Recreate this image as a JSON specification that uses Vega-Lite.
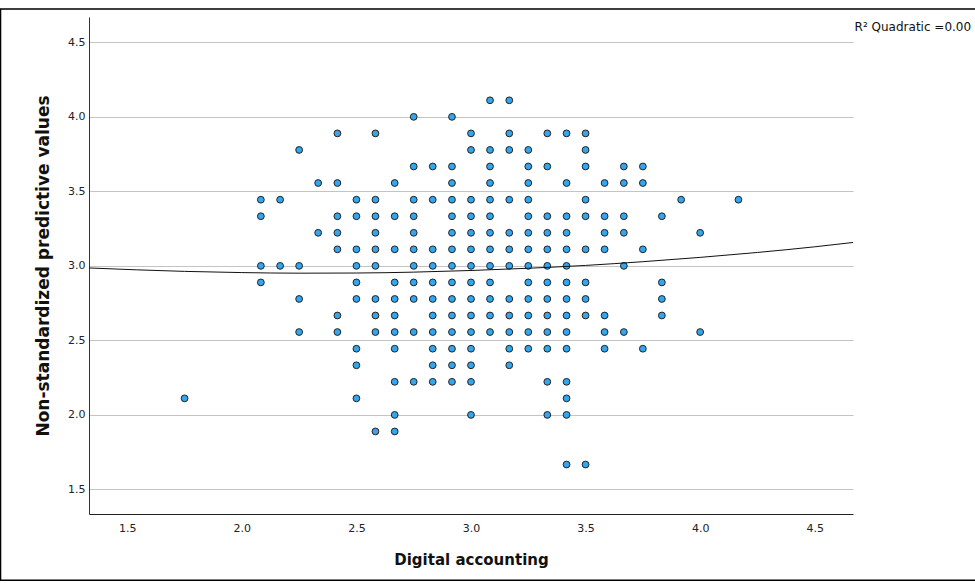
{
  "$schema": "https://vega.github.io/schema/vega-lite/v6.json",
  "width": 764,
  "height": 497,
  "autosize": {"type": "none"},
  "padding": {"left": 89, "top": 17, "right": 122, "bottom": 69},
  "background": "white",
  "config": {
    "view": {"stroke": null},
    "font": "DejaVu Sans",
    "axis": {
      "labelFont": "DejaVu Sans",
      "labelFontSize": 11,
      "labelColor": "#222222",
      "titleFont": "DejaVu Sans",
      "titleFontWeight": "bold",
      "titleFontSize": 14,
      "titleColor": "#111111",
      "ticks": false,
      "domainColor": "#333333",
      "domainWidth": 1
    }
  },
  "datasets": {
    "points": [
      {"x": 3.083, "y": 4.111}, {"x": 3.167, "y": 4.111},
      {"x": 2.75, "y": 4.0}, {"x": 2.917, "y": 4.0},
      {"x": 2.417, "y": 3.889}, {"x": 2.583, "y": 3.889}, {"x": 3.0, "y": 3.889}, {"x": 3.167, "y": 3.889}, {"x": 3.333, "y": 3.889}, {"x": 3.417, "y": 3.889}, {"x": 3.5, "y": 3.889},
      {"x": 2.25, "y": 3.778}, {"x": 3.0, "y": 3.778}, {"x": 3.083, "y": 3.778}, {"x": 3.167, "y": 3.778}, {"x": 3.25, "y": 3.778}, {"x": 3.5, "y": 3.778},
      {"x": 2.75, "y": 3.667}, {"x": 2.833, "y": 3.667}, {"x": 2.917, "y": 3.667}, {"x": 3.083, "y": 3.667}, {"x": 3.25, "y": 3.667}, {"x": 3.333, "y": 3.667}, {"x": 3.5, "y": 3.667}, {"x": 3.667, "y": 3.667}, {"x": 3.75, "y": 3.667},
      {"x": 2.333, "y": 3.556}, {"x": 2.417, "y": 3.556}, {"x": 2.667, "y": 3.556}, {"x": 2.917, "y": 3.556}, {"x": 3.083, "y": 3.556}, {"x": 3.25, "y": 3.556}, {"x": 3.417, "y": 3.556}, {"x": 3.583, "y": 3.556}, {"x": 3.667, "y": 3.556}, {"x": 3.75, "y": 3.556},
      {"x": 2.083, "y": 3.444}, {"x": 2.167, "y": 3.444}, {"x": 2.5, "y": 3.444}, {"x": 2.583, "y": 3.444}, {"x": 2.75, "y": 3.444}, {"x": 2.833, "y": 3.444}, {"x": 2.917, "y": 3.444}, {"x": 3.0, "y": 3.444}, {"x": 3.083, "y": 3.444}, {"x": 3.167, "y": 3.444}, {"x": 3.25, "y": 3.444}, {"x": 3.5, "y": 3.444}, {"x": 3.917, "y": 3.444}, {"x": 4.167, "y": 3.444},
      {"x": 2.083, "y": 3.333}, {"x": 2.417, "y": 3.333}, {"x": 2.5, "y": 3.333}, {"x": 2.583, "y": 3.333}, {"x": 2.667, "y": 3.333}, {"x": 2.75, "y": 3.333}, {"x": 2.917, "y": 3.333}, {"x": 3.0, "y": 3.333}, {"x": 3.083, "y": 3.333}, {"x": 3.25, "y": 3.333}, {"x": 3.333, "y": 3.333}, {"x": 3.417, "y": 3.333}, {"x": 3.5, "y": 3.333}, {"x": 3.583, "y": 3.333}, {"x": 3.667, "y": 3.333}, {"x": 3.833, "y": 3.333},
      {"x": 2.333, "y": 3.222}, {"x": 2.417, "y": 3.222}, {"x": 2.583, "y": 3.222}, {"x": 2.75, "y": 3.222}, {"x": 2.917, "y": 3.222}, {"x": 3.0, "y": 3.222}, {"x": 3.083, "y": 3.222}, {"x": 3.167, "y": 3.222}, {"x": 3.25, "y": 3.222}, {"x": 3.333, "y": 3.222}, {"x": 3.417, "y": 3.222}, {"x": 3.583, "y": 3.222}, {"x": 3.667, "y": 3.222}, {"x": 4.0, "y": 3.222},
      {"x": 2.417, "y": 3.111}, {"x": 2.5, "y": 3.111}, {"x": 2.583, "y": 3.111}, {"x": 2.667, "y": 3.111}, {"x": 2.75, "y": 3.111}, {"x": 2.833, "y": 3.111}, {"x": 2.917, "y": 3.111}, {"x": 3.0, "y": 3.111}, {"x": 3.083, "y": 3.111}, {"x": 3.167, "y": 3.111}, {"x": 3.25, "y": 3.111}, {"x": 3.333, "y": 3.111}, {"x": 3.417, "y": 3.111}, {"x": 3.5, "y": 3.111}, {"x": 3.583, "y": 3.111}, {"x": 3.75, "y": 3.111},
      {"x": 2.083, "y": 3.0}, {"x": 2.167, "y": 3.0}, {"x": 2.25, "y": 3.0}, {"x": 2.5, "y": 3.0}, {"x": 2.583, "y": 3.0}, {"x": 2.75, "y": 3.0}, {"x": 2.833, "y": 3.0}, {"x": 2.917, "y": 3.0}, {"x": 3.0, "y": 3.0}, {"x": 3.083, "y": 3.0}, {"x": 3.167, "y": 3.0}, {"x": 3.25, "y": 3.0}, {"x": 3.333, "y": 3.0}, {"x": 3.417, "y": 3.0}, {"x": 3.667, "y": 3.0},
      {"x": 2.083, "y": 2.889}, {"x": 2.5, "y": 2.889}, {"x": 2.667, "y": 2.889}, {"x": 2.75, "y": 2.889}, {"x": 2.833, "y": 2.889}, {"x": 2.917, "y": 2.889}, {"x": 3.0, "y": 2.889}, {"x": 3.083, "y": 2.889}, {"x": 3.25, "y": 2.889}, {"x": 3.333, "y": 2.889}, {"x": 3.417, "y": 2.889}, {"x": 3.5, "y": 2.889}, {"x": 3.833, "y": 2.889},
      {"x": 2.25, "y": 2.778}, {"x": 2.5, "y": 2.778}, {"x": 2.583, "y": 2.778}, {"x": 2.667, "y": 2.778}, {"x": 2.75, "y": 2.778}, {"x": 2.833, "y": 2.778}, {"x": 2.917, "y": 2.778}, {"x": 3.0, "y": 2.778}, {"x": 3.083, "y": 2.778}, {"x": 3.167, "y": 2.778}, {"x": 3.25, "y": 2.778}, {"x": 3.333, "y": 2.778}, {"x": 3.417, "y": 2.778}, {"x": 3.5, "y": 2.778}, {"x": 3.833, "y": 2.778},
      {"x": 2.417, "y": 2.667}, {"x": 2.583, "y": 2.667}, {"x": 2.667, "y": 2.667}, {"x": 2.833, "y": 2.667}, {"x": 2.917, "y": 2.667}, {"x": 3.0, "y": 2.667}, {"x": 3.083, "y": 2.667}, {"x": 3.167, "y": 2.667}, {"x": 3.25, "y": 2.667}, {"x": 3.333, "y": 2.667}, {"x": 3.417, "y": 2.667}, {"x": 3.5, "y": 2.667}, {"x": 3.583, "y": 2.667}, {"x": 3.833, "y": 2.667},
      {"x": 2.25, "y": 2.556}, {"x": 2.417, "y": 2.556}, {"x": 2.583, "y": 2.556}, {"x": 2.667, "y": 2.556}, {"x": 2.75, "y": 2.556}, {"x": 2.833, "y": 2.556}, {"x": 2.917, "y": 2.556}, {"x": 3.0, "y": 2.556}, {"x": 3.083, "y": 2.556}, {"x": 3.167, "y": 2.556}, {"x": 3.25, "y": 2.556}, {"x": 3.333, "y": 2.556}, {"x": 3.417, "y": 2.556}, {"x": 3.583, "y": 2.556}, {"x": 3.667, "y": 2.556}, {"x": 4.0, "y": 2.556},
      {"x": 2.5, "y": 2.444}, {"x": 2.667, "y": 2.444}, {"x": 2.833, "y": 2.444}, {"x": 2.917, "y": 2.444}, {"x": 3.0, "y": 2.444}, {"x": 3.167, "y": 2.444}, {"x": 3.25, "y": 2.444}, {"x": 3.333, "y": 2.444}, {"x": 3.417, "y": 2.444}, {"x": 3.583, "y": 2.444}, {"x": 3.75, "y": 2.444},
      {"x": 2.5, "y": 2.333}, {"x": 2.833, "y": 2.333}, {"x": 2.917, "y": 2.333}, {"x": 3.0, "y": 2.333}, {"x": 3.167, "y": 2.333},
      {"x": 2.667, "y": 2.222}, {"x": 2.75, "y": 2.222}, {"x": 2.833, "y": 2.222}, {"x": 2.917, "y": 2.222}, {"x": 3.0, "y": 2.222}, {"x": 3.333, "y": 2.222}, {"x": 3.417, "y": 2.222},
      {"x": 1.75, "y": 2.111}, {"x": 2.5, "y": 2.111}, {"x": 3.417, "y": 2.111},
      {"x": 2.667, "y": 2.0}, {"x": 3.0, "y": 2.0}, {"x": 3.333, "y": 2.0}, {"x": 3.417, "y": 2.0},
      {"x": 2.583, "y": 1.889}, {"x": 2.667, "y": 1.889},
      {"x": 3.417, "y": 1.667}, {"x": 3.5, "y": 1.667}
    ],
    "fit": [
      {"x": 1.333, "y": 2.986}, {"x": 1.75, "y": 2.963}, {"x": 2.0, "y": 2.955}, {"x": 2.25, "y": 2.951},
      {"x": 2.5, "y": 2.952}, {"x": 2.75, "y": 2.958}, {"x": 3.0, "y": 2.969}, {"x": 3.25, "y": 2.984},
      {"x": 3.5, "y": 3.003}, {"x": 3.75, "y": 3.028}, {"x": 4.0, "y": 3.057}, {"x": 4.25, "y": 3.09},
      {"x": 4.5, "y": 3.128}, {"x": 4.667, "y": 3.157}
    ],
    "note": [{"label": "R² Quadratic =0.00"}]
  },
  "layer": [
    {
      "data": {"name": "note"},
      "mark": {"type": "rect", "fill": "transparent", "stroke": "#000000", "strokeWidth": 1.5, "clip": false},
      "encoding": {
        "x": {"datum": 0.947, "type": "quantitative", "scale": {"domain": [1.333, 4.667], "nice": false, "zero": false}},
        "x2": {"datum": 5.207},
        "y": {"datum": 4.723, "type": "quantitative", "scale": {"domain": [1.335, 4.67], "nice": false, "zero": false}},
        "y2": {"datum": 0.89}
      }
    },
    {
      "data": {"name": "points"},
      "mark": {"type": "point", "shape": "circle", "filled": true, "fill": "#33a6f0", "stroke": "#222222", "strokeWidth": 1, "size": 46, "opacity": 1},
      "encoding": {
        "x": {
          "field": "x", "type": "quantitative",
          "scale": {"domain": [1.333, 4.667], "nice": false, "zero": false},
          "axis": {"title": "Digital accounting", "values": [1.5, 2, 2.5, 3, 3.5, 4, 4.5], "format": ".1f", "grid": false, "labelPadding": 8, "titlePadding": 19, "titleFontSize": 15, "domainColor": "#222222"}
        },
        "y": {
          "field": "y", "type": "quantitative",
          "scale": {"domain": [1.335, 4.67], "nice": false, "zero": false},
          "axis": {"title": "Non-standardized predictive values", "values": [1.5, 2, 2.5, 3, 3.5, 4, 4.5], "format": ".1f", "grid": true, "gridColor": "#c4c4c4", "gridWidth": 1, "labelPadding": 4, "titlePadding": 15, "titleFontSize": 17}
        }
      }
    },
    {
      "data": {"name": "fit"},
      "mark": {"type": "line", "color": "#111111", "strokeWidth": 1, "interpolate": "monotone"},
      "encoding": {
        "x": {"field": "x", "type": "quantitative", "scale": {"domain": [1.333, 4.667], "nice": false, "zero": false}},
        "y": {"field": "y", "type": "quantitative", "scale": {"domain": [1.335, 4.67], "nice": false, "zero": false}}
      }
    },
    {
      "data": {"name": "note"},
      "mark": {"type": "text", "align": "left", "baseline": "middle", "fontSize": 12, "font": "DejaVu Sans", "color": "#111111", "clip": false},
      "encoding": {
        "x": {"datum": 4.674, "type": "quantitative"},
        "y": {"datum": 4.6, "type": "quantitative"},
        "text": {"field": "label"}
      }
    }
  ]
}
